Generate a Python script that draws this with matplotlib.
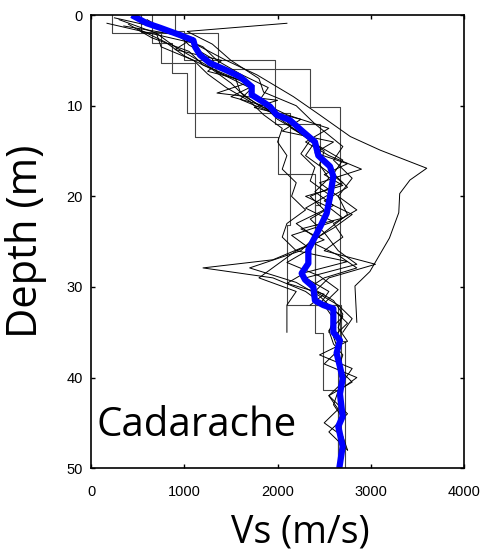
#! /usr/bin/env python3
# -*- coding: utf-8 -*-

import matplotlib
matplotlib.use('Agg')
import matplotlib.pyplot as plt
from matplotlib import font_manager

# mean Vs profile (blue)
mean_depth = [0, 0.9, 1.4, 2.2, 2.8, 3.5, 4.4, 5.3, 6.1, 6.8, 7.9, 8.8, 9.6,
              10.1, 11.0, 11.6, 12.9, 14.0, 15.5, 16.7, 17.8, 20.1, 21.9,
              23.4, 24.5, 25.9, 27.4, 28.5, 29.2, 30.0, 31.5, 32.0, 32.4,
              34.0, 35.0, 35.9, 37.3, 38.8, 40.1, 41.8, 44.3, 45.4, 47.6, 50]
mean_vs = [436, 597, 740, 954, 1097, 1115, 1168, 1276, 1455, 1597, 1722, 1722,
           1847, 1919, 1990, 2133, 2276, 2401, 2437, 2562, 2598, 2562, 2526,
           2455, 2401, 2330, 2330, 2258, 2294, 2383, 2401, 2490, 2598, 2598,
           2598, 2669, 2633, 2669, 2698, 2669, 2698, 2651, 2698, 2662]

# individual inverted profiles (jagged)
p1_depth = [0.9, 3.1, 5.0, 6.6, 9.0, 11.0, 13.4, 14.9, 16.9, 18.2, 19.7, 21.8,
            24.6, 28.3, 29.9, 33.9]
p1_vs = [170, 1100, 1450, 1780, 2170, 2450, 2780, 3100, 3600, 3420, 3310,
         3300, 3200, 2990, 2830, 2850]

p2_depth = [0.9, 1.8, 3.2, 5, 7, 8.5, 10, 12, 14.5, 16, 18, 20, 22, 24, 26,
            27.5, 29, 30.5, 32]
p2_vs = [2100, 1030, 1300, 1500, 1800, 1850, 2200, 2400, 2700, 2600, 2800,
         2650, 2750, 2500, 2650, 2850, 2300, 2550, 2450]

p3_depth = [1.5, 3, 4.5, 6, 7.5, 9, 10.5, 12, 13.5, 15, 16.5, 18, 19.5, 21,
            22.5, 24, 25.5, 27, 27.9, 29, 30.5, 32, 33.5, 35]
p3_vs = [500, 800, 1000, 1300, 1500, 1650, 1900, 2100, 2300, 2500, 2450, 2550,
         2400, 2600, 2350, 2500, 2300, 1950, 1200, 1950, 2300, 2500, 2600, 2550]

p4_depth = [0.5, 2, 3.5, 5, 6.5, 8, 9, 10, 11.5, 13, 14.5, 16, 17.5, 19, 20.5,
            22, 23.5, 25, 26.5, 27.9, 29, 30, 31.5, 33, 34.5, 36, 37.5, 39,
            40.5, 42, 44, 46, 48]
p4_vs = [300, 700, 900, 1150, 1400, 1700, 1500, 1850, 2000, 2250, 2450, 2700,
         2600, 2750, 2500, 2800, 2600, 2350, 2650, 2850, 2500, 2350, 2600,
         2700, 2650, 2750, 2450, 2800, 2700, 2550, 2750, 2550, 2750]

p5_depth = [1, 2.5, 4, 5.5, 7, 8.5, 10, 11, 12.5, 14, 15.5, 17, 18.5, 20, 21.5,
            23, 24.5, 26, 27.9, 29.5, 31, 32.5, 34, 35.5, 37, 38.5, 40, 41.5,
            43, 44.5]
p5_vs = [400, 650, 1050, 1200, 1550, 1600, 1800, 2050, 2150, 2400, 2300, 2500,
         2700, 2350, 2500, 2200, 2400, 2250, 1700, 2200, 2450, 2600, 2750,
         2600, 2650, 2500, 2850, 2650, 2600, 2700]

p6_depth = [0.5, 2, 3.5, 5, 6.5, 8, 9.5, 11, 12.5, 14, 15.5, 17, 18.5, 20,
            21.5, 23, 24.5, 26, 27.5, 29, 30.5, 32, 33.5, 35]
p6_vs = [600, 850, 1200, 1350, 1600, 1900, 1800, 2100, 2550, 2300, 2550, 2900,
         2450, 2650, 2850, 2600, 2700, 2500, 3050, 2550, 2400, 2650, 2800, 2700]

p7_depth = [2, 3.5, 5, 6.5, 8, 9.5, 11, 12.5, 14, 15.5, 17, 18.5, 20, 21.5,
            23, 24.5, 26, 27.5, 29, 30.5, 32, 35]
p7_vs = [700, 750, 1100, 1250, 1450, 1700, 1850, 2050, 2000, 2100, 2050, 2200,
         2150, 2300, 2100, 2050, 2200, 2000, 1800, 2200, 2100, 2100]

p8_depth = [0.3, 1.8, 3.3, 4.8, 6.3, 7.8, 9.3, 10.8, 12.3, 13.8, 15.3, 16.8,
            18.3, 19.8, 21.3, 22.8, 24.3, 25.8, 27.3, 28.8, 30.3, 31.8, 33.3,
            34.8, 36.3, 37.5, 39, 40.5, 42, 43.5, 45, 46.5, 48]
p8_vs = [250, 900, 1050, 1300, 1350, 1750, 1600, 1950, 2200, 2350, 2250, 2400,
         2350, 2550, 2300, 2600, 2150, 2350, 2100, 2450, 2650, 2500, 2700,
         2550, 2600, 2700, 2650, 2800, 2550, 2650, 2500, 2700, 2750]

p9_depth = [1.2, 2.5, 3.8, 5, 6.2, 7.4, 8.6, 9.4, 10.2, 11.5, 12.8, 14, 15.2,
            16.4, 17.6, 18.8, 20, 21.2, 22.4, 23.6, 24.8, 26, 27.2, 28.4,
            29.6, 30.8, 32]
p9_vs = [350, 1100, 900, 1400, 1250, 1700, 1350, 2000, 1750, 2250, 2050, 2600,
         2400, 2750, 2500, 2700, 2300, 2550, 2700, 2250, 2500, 2200, 2750,
         2300, 2100, 2500, 2350]

profiles = [(p1_depth, p1_vs), (p2_depth, p2_vs), (p3_depth, p3_vs),
            (p4_depth, p4_vs), (p5_depth, p5_vs), (p6_depth, p6_vs),
            (p7_depth, p7_vs), (p8_depth, p8_vs), (p9_depth, p9_vs)]

# layered (step) models: layer boundaries and layer velocities
s1_bounds = [0, 2.0, 6.0, 10.1, 36, 50]
s1_vs = [220, 1360, 2350, 2670, 2720]
s2_bounds = [0, 1.9, 5.3, 13.5, 17.5, 32, 50]
s2_vs = [540, 750, 1115, 2005, 2400, 2650]
s3_bounds = [0, 3.1, 6.4, 10.8, 23.2, 32, 50]
s3_vs = [650, 870, 1030, 2130, 2100, 2680]
s4_bounds = [0, 1.7, 5.0, 12.0, 21.0, 35.1, 41.4, 50]
s4_vs = [900, 1000, 1972, 2450, 2400, 2490, 2650]

steps = [(s1_bounds, s1_vs), (s2_bounds, s2_vs), (s3_bounds, s3_vs),
         (s4_bounds, s4_vs)]

vs_ticks = [0, 1000, 2000, 3000, 4000]
depth_ticks = [0, 10, 20, 30, 40, 50]


def step_xy(bounds, vs):
    x, y = [], []
    for i, v in enumerate(vs):
        x += [v, v]
        y += [bounds[i], bounds[i + 1]]
    return x, y


def tick_family():
    names = {f.name for f in font_manager.fontManager.ttflist}
    if 'Liberation Sans Narrow' in names:
        return ['Liberation Sans Narrow', 'DejaVu Sans'], 12
    return ['Liberation Sans', 'DejaVu Sans'], 10.5


def main():
    fig = plt.figure(figsize=(4.9, 5.6), dpi=100)
    ax = fig.add_axes([0.186, 0.164, 0.761, 0.809])

    for bounds, vs in steps:
        x, y = step_xy(bounds, vs)
        ax.plot(x, y, color='#444444', lw=0.8)
    for d, v in profiles:
        ax.plot(v, d, color='black', lw=0.7)
    ax.plot(mean_vs, mean_depth, color='#0000ff', lw=4.5,
            solid_capstyle='butt')

    ax.set_xlim(0, 4000)
    ax.set_ylim(50, 0)
    ax.set_xticks(vs_ticks)
    ax.set_yticks(depth_ticks)
    fam, size = tick_family()
    tick_font = {'family': fam, 'size': size}
    ax.set_xticklabels([str(t) for t in vs_ticks], fontdict=tick_font)
    ax.set_yticklabels([str(t) for t in depth_ticks], fontdict=tick_font)
    ax.tick_params(direction='in', length=3, width=1, top=True, right=True)
    ax.tick_params(axis='x', pad=12)
    ax.tick_params(axis='y', pad=6)
    for s in ax.spines.values():
        s.set_linewidth(1.2)

    ax.text(60, 45.3, 'Cadarache', fontsize=29, family='Open Sans',
            va='center', ha='left')
    ax.set_xlabel('Vs (m/s)', fontsize=27, family='Open Sans')
    ax.xaxis.set_label_coords(0.56, -0.1)
    ax.set_ylabel('Depth (m)', fontsize=30, family='Open Sans')
    ax.yaxis.set_label_coords(-0.118, 0.5)

    fig.savefig('out.png', dpi=100)


if __name__ == '__main__':
    main()
